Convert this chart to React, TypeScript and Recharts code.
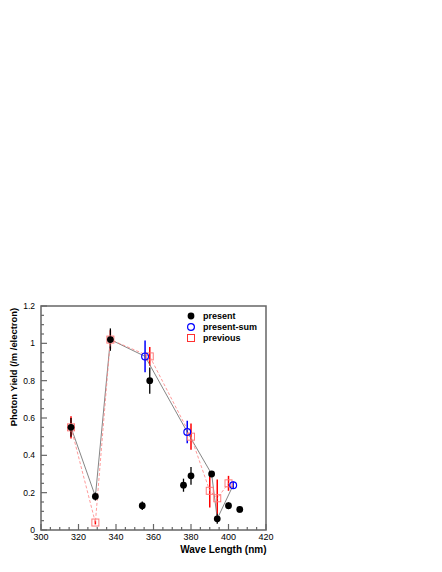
import React from 'react';
import { ComposedChart, Scatter, XAxis, YAxis, ErrorBar, ReferenceArea, Legend } from 'recharts';

// ---- data ----
const presentX = [316, 329, 337, 354, 358, 376, 380, 391, 394, 400, 406];
const presentY = [0.55, 0.18, 1.02, 0.13, 0.80, 0.24, 0.29, 0.30, 0.06, 0.13, 0.11];
const presentErr = [0.05, 0.022, 0.06, 0.023, 0.07, 0.035, 0.048, 0.012, 0.027, 0.018, 0.016];

const sumX = [355.5, 378, 402.5];
const sumY = [0.93, 0.525, 0.24];
const sumErr = [0.085, 0.06, 0.02];

const prevX = [316, 329, 337, 358, 380, 390, 394, 400];
const prevY = [0.55, 0.04, 1.02, 0.93, 0.50, 0.21, 0.17, 0.25];
const prevErr = [0.06, 0.01, 0.05, 0.05, 0.07, 0.09, 0.1, 0.04];

// gray solid connecting line (present / present-sum)
const lineX = [316, 329, 337, 355.5, 378, 391, 394, 402.5];
const lineY = [0.55, 0.18, 1.02, 0.93, 0.525, 0.30, 0.06, 0.24];

const xTicks = [300, 305, 310, 315, 320, 325, 330, 335, 340, 345, 350, 355, 360, 365, 370, 375, 380, 385, 390, 395, 400, 405, 410, 415, 420];
const xMajor = [300, 320, 340, 360, 380, 400, 420];
const yTicks = [0, 0.05, 0.1, 0.15, 0.2, 0.25, 0.3, 0.35, 0.4, 0.45, 0.5, 0.55, 0.6, 0.65, 0.7, 0.75, 0.8, 0.85, 0.9, 0.95, 1, 1.05, 1.1, 1.15, 1.2];
const yMajor = [0, 0.2, 0.4, 0.6, 0.8, 1, 1.2];

const legendLabels = ['present', 'present-sum', 'previous'];
const xTitle = 'Wave Length (nm)';
const yTitle = 'Photon Yield (/m /electron)';

const presentData = presentX.map((x, i) => ({ x, y: presentY[i], err: presentErr[i] }));
const sumData = sumX.map((x, i) => ({ x, y: sumY[i], err: sumErr[i] }));
const prevData = prevX.map((x, i) => ({ x, y: prevY[i], err: prevErr[i] }));
const lineData = lineX.map((x, i) => ({ x, y: lineY[i] }));

const FONT = '"Liberation Sans", Arial, Helvetica, sans-serif';
const AXIS = '#666';

const XTick = (props: any) => {
  const { x, y, payload } = props;
  const v = payload.value;
  const major = xMajor.includes(v);
  return (
    <g>
      <line x1={x} x2={x} y1={y} y2={y - (major ? 6 : 3)} stroke={AXIS} strokeWidth={1.2} />
      {major && (
        <text x={x} y={y + 10} textAnchor="middle" fontFamily={FONT} fontSize={9} fill="#000">
          {String(v)}
        </text>
      )}
    </g>
  );
};

const YTick = (props: any) => {
  const { x, y, payload } = props;
  const v = payload.value;
  const major = yMajor.some((m) => Math.abs(m - v) < 1e-6);
  return (
    <g>
      <line x1={x} x2={x + (major ? 6 : 3)} y1={y} y2={y} stroke={AXIS} strokeWidth={1.2} />
      {major && (
        <text x={x - 6} y={y + 3} textAnchor="end" fontFamily={FONT} fontSize={8.5} fill="#000">
          {String(v)}
        </text>
      )}
    </g>
  );
};

const XTitle = (props: any) => {
  const vb = props.viewBox || { x: 33, y: 522, width: 225 };
  return (
    <text x={vb.x + vb.width + 0.5} y={vb.y + 22.5} textAnchor="end" fontFamily={FONT} fontWeight="bold" fontSize={10} fill="#000">
      {xTitle}
    </text>
  );
};

const YTitle = (props: any) => {
  const vb = props.viewBox || { x: 0, y: 298 };
  const tx = vb.x + 8.6;
  const ty = vb.y + 2;
  return (
    <text x={tx} y={ty} transform={`rotate(-90 ${tx} ${ty})`} textAnchor="end" fontFamily={FONT} fontWeight="bold" fontSize={9.4} fill="#000">
      {yTitle}
    </text>
  );
};

const Dot = (props: any) => <circle cx={props.cx} cy={props.cy} r={3.4} fill="#000" />;
const OpenCircle = (props: any) => <circle cx={props.cx} cy={props.cy} r={3.4} fill="none" stroke="#0000ff" strokeWidth={1.2} />;
const OpenSquare = (props: any) => (
  <rect x={props.cx - 3.5} y={props.cy - 3.5} width={7} height={7} fill="none" stroke="#ff7a7a" strokeWidth={1} />
);
const NoShape = () => <g />;

const legendIcons = [
  <circle cx={5} cy={5} r={3.4} fill="#000" />,
  <circle cx={5} cy={5} r={3.4} fill="none" stroke="#0000ff" strokeWidth={1.2} />,
  <rect x={1.5} y={1.5} width={7} height={7} fill="none" stroke="#ff3030" strokeWidth={1} />,
];

const LegendContent = () => (
  <div style={{ fontFamily: FONT, fontSize: 9, fontWeight: 'bold', color: '#000' }}>
    {legendLabels.map((l, i) => (
      <div key={l} style={{ display: 'flex', alignItems: 'center', height: 11 }}>
        <svg width={10} height={10} style={{ display: 'block' }}>{legendIcons[i]}</svg>
        <span style={{ marginLeft: 7, whiteSpace: 'nowrap' }}>{l}</span>
      </div>
    ))}
  </div>
);

export default function App() {
  return (
    <div style={{ width: 434, height: 556 }}>
      <ComposedChart width={434} height={556} margin={{ top: 298, right: 176, left: 0, bottom: 0 }}>
        <XAxis
          type="number"
          dataKey="x"
          domain={[300, 420]}
          ticks={xTicks}
          interval={0}
          allowDataOverflow
          axisLine={false}
          tickLine={false}
          tickSize={0}
          tickMargin={0}
          height={34}
          tick={<XTick />}
          label={<XTitle />}
        />
        <YAxis
          type="number"
          dataKey="y"
          domain={[0, 1.2]}
          ticks={yTicks}
          interval={0}
          allowDataOverflow
          axisLine={false}
          tickLine={false}
          tickSize={0}
          tickMargin={0}
          width={33}
          tick={<YTick />}
          label={<YTitle />}
        />
        <ReferenceArea x1={300} x2={420} y1={0} y2={1.2} fill="none" stroke={AXIS} strokeWidth={1.5} strokeOpacity={1} />
        <Legend
          layout="vertical"
          align="center"
          verticalAlign="middle"
          content={<LegendContent />}
          wrapperStyle={{ left: 178, top: 302, width: 'auto', height: 'auto' }}
        />
        <Scatter name="line" data={lineData} shape={<NoShape />} line={{ stroke: '#666', strokeWidth: 0.8 }} isAnimationActive={false} legendType="none" />
        <Scatter name="previous" data={prevData} shape={<OpenSquare />} line={{ stroke: '#ff8080', strokeWidth: 0.8, strokeDasharray: '3 2' }} isAnimationActive={false}>
          <ErrorBar dataKey="err" direction="y" width={0} stroke="#ff0000" strokeWidth={1.5} isAnimationActive={false} />
        </Scatter>
        <Scatter name="present" data={presentData} shape={<Dot />} isAnimationActive={false}>
          <ErrorBar dataKey="err" direction="y" width={0} stroke="#000" strokeWidth={1.3} isAnimationActive={false} />
        </Scatter>
        <Scatter name="present-sum" data={sumData} shape={<OpenCircle />} isAnimationActive={false}>
          <ErrorBar dataKey="err" direction="y" width={0} stroke="#0000ff" strokeWidth={1.5} isAnimationActive={false} />
        </Scatter>
      </ComposedChart>
    </div>
  );
}
